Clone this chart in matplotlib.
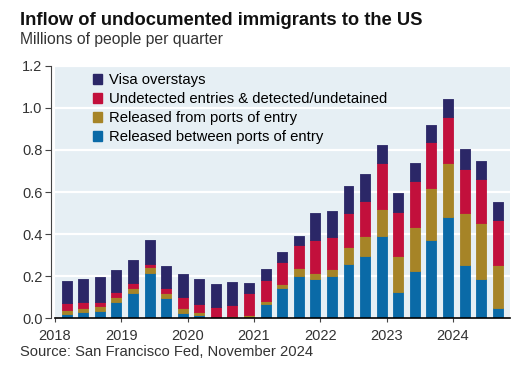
import matplotlib.pyplot as plt
import numpy as np
from matplotlib.patches import Patch

plt.rcParams['font.family'] = ['Liberation Sans', 'DejaVu Sans']

# quarters 2018Q1 .. 2024Q3, millions of people per quarter
years = [2018] * 4 + [2019] * 4 + [2020] * 4 + [2021] * 4 + [2022] * 4 + [2023] * 4 + [2024] * 3
quarters = [1, 2, 3, 4] * 6 + [1, 2, 3]

between_ports = [0.020, 0.030, 0.035, 0.078, 0.117, 0.213, 0.094, 0.022, 0.015, 0.003,
                 0.003, 0.005, 0.067, 0.141, 0.202, 0.186, 0.202, 0.257, 0.295, 0.390,
                 0.125, 0.224, 0.371, 0.479, 0.252, 0.187, 0.046]
from_ports = [0.020, 0.020, 0.020, 0.020, 0.024, 0.028, 0.023, 0.024, 0.012, 0.004,
              0.008, 0.009, 0.014, 0.019, 0.038, 0.027, 0.030, 0.083, 0.095, 0.127,
              0.170, 0.211, 0.250, 0.261, 0.246, 0.264, 0.206]
undetected = [0.030, 0.025, 0.020, 0.025, 0.027, 0.016, 0.027, 0.052, 0.040, 0.047,
              0.051, 0.103, 0.100, 0.108, 0.108, 0.158, 0.152, 0.162, 0.167, 0.220,
              0.211, 0.217, 0.216, 0.216, 0.212, 0.209, 0.215]
visa_overstays = [0.105, 0.110, 0.120, 0.108, 0.108, 0.114, 0.104, 0.112, 0.120, 0.106,
                  0.111, 0.051, 0.051, 0.045, 0.042, 0.131, 0.127, 0.127, 0.127, 0.087,
                  0.088, 0.088, 0.082, 0.085, 0.093, 0.088, 0.087]

tick_years = [2018, 2019, 2020, 2021, 2022, 2023, 2024]

C_BLUE = '#0a6aa7'
C_GOLD = '#a68427'
C_RED = '#c2103c'
C_NAVY = '#2b2767'
BG = '#e6eff4'

fig = plt.figure(figsize=(5.26, 3.66), dpi=100)
ax = fig.add_axes([0.1046, 0.1311, 0.865, 0.6886])
ax.set_facecolor(BG)

x = np.array(years) + (np.array(quarters) - 1) / 4 + 0.175
w = 0.15

series = [
    (between_ports, C_BLUE, 'Released between ports of entry'),
    (from_ports, C_GOLD, 'Released from ports of entry'),
    (undetected, C_RED, 'Undetected entries & detected/undetained'),
    (visa_overstays, C_NAVY, 'Visa overstays'),
]
bottom = np.zeros(len(x))
for vals, col, lab in series:
    ax.bar(x, vals, width=w, bottom=bottom, color=col, edgecolor=col,
           linewidth=0.6, joinstyle='round', zorder=3)
    bottom += np.array(vals)

ax.set_xlim(2018, 2024.86)
ax.set_ylim(0, 1.2)
ax.set_yticks(np.arange(0, 1.21, 0.2))
ax.set_yticklabels([f'{v:.1f}' for v in np.arange(0, 1.21, 0.2)])
ax.set_xticks(tick_years)
ax.set_xticklabels([str(y) for y in tick_years])
ax.grid(axis='y', color='white', linewidth=1.6, zorder=1)
ax.set_axisbelow(True)

for s in ['top', 'right']:
    ax.spines[s].set_visible(False)
ax.spines['left'].set_color('#444444')
ax.spines['left'].set_position(('outward', 3))
ax.spines['bottom'].set_color('black')
ax.spines['bottom'].set_linewidth(1.2)
ax.spines['bottom'].set_zorder(4)
ax.tick_params(axis='y', length=4, color='#444444', labelsize=10.5, labelcolor='#333333', pad=2)
ax.tick_params(axis='x', length=3, color='#444444', labelsize=10.5, labelcolor='#333333', pad=5)

handles = [Patch(facecolor=col, edgecolor=col) for _, col, _ in series][::-1]
labels = [lab for _, _, lab in series][::-1]
ax.legend(handles, labels, loc='upper left', bbox_to_anchor=(0.07, 0.995), frameon=False,
          fontsize=10.7, handlelength=0.65, handleheight=0.65, handletextpad=0.45,
          labelspacing=0.33, borderaxespad=0)

fig.text(0.038, 0.931, 'Inflow of undocumented immigrants to the US', fontsize=13.2,
         fontweight='bold', color='#111111', va='baseline')
fig.text(0.038, 0.881, 'Millions of people per quarter', fontsize=11.3,
         color='#333333', va='baseline')
fig.text(0.038, 0.026, 'Source: San Francisco Fed, November 2024', fontsize=10.6,
         color='#333333', va='baseline')

fig.savefig('out.png', dpi=100)
